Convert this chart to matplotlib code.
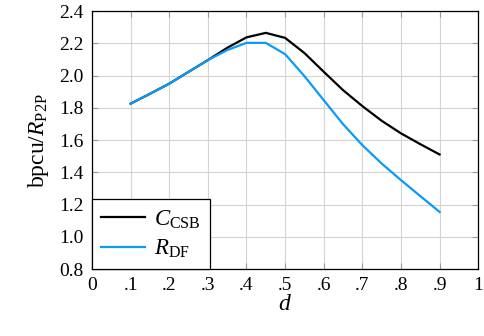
import matplotlib
matplotlib.use("Agg")
import matplotlib.pyplot as plt

# data
d = [0.1, 0.15, 0.2, 0.25, 0.3, 0.35, 0.4, 0.45, 0.5, 0.55, 0.6, 0.65, 0.7, 0.75, 0.8, 0.85, 0.9]
c_csb = [1.826, 1.887, 1.95, 2.023, 2.096, 2.172, 2.237, 2.265, 2.234, 2.14, 2.024, 1.91, 1.811, 1.72, 1.642, 1.575, 1.511]
r_df = [1.826, 1.887, 1.95, 2.023, 2.096, 2.158, 2.203, 2.203, 2.133, 1.997, 1.848, 1.699, 1.569, 1.455, 1.352, 1.253, 1.155]

x_ticks = [0, 0.1, 0.2, 0.3, 0.4, 0.5, 0.6, 0.7, 0.8, 0.9, 1.0]
x_labels = ["0", ".1", ".2", ".3", ".4", ".5", ".6", ".7", ".8", ".9", "1"]
y_ticks = [0.8, 1.0, 1.2, 1.4, 1.6, 1.8, 2.0, 2.2, 2.4]

plt.rcParams['font.family'] = ['Liberation Serif', 'DejaVu Serif']
plt.rcParams['mathtext.fontset'] = 'custom'
plt.rcParams['mathtext.rm'] = 'Liberation Serif'
plt.rcParams['mathtext.it'] = 'Liberation Serif:italic'

fig = plt.figure(figsize=(4.84, 3.36), dpi=100)
ax = fig.add_axes([0.190, 0.199, 0.798, 0.768])

ax.plot(d, c_csb, color='black', lw=1.6, label=r'$C_{\mathrm{CSB}}$')
ax.plot(d, r_df, color='#0a9bf7', lw=1.6, label=r'$R_{\mathrm{DF}}$')

ax.set_xlim(0, 1)
ax.set_ylim(0.8, 2.4)
ax.set_xticks(x_ticks)
ax.set_xticklabels(x_labels)
ax.set_yticks(y_ticks)
ax.set_yticklabels([f"{v:.1f}" for v in y_ticks])
ax.grid(True, color='#d4d4d4', lw=0.8)
ax.set_axisbelow(True)
ax.tick_params(direction='in', length=4, width=0.8, color='#999999',
               top=True, right=True, labelsize=14, pad=6)
for s in ax.spines.values():
    s.set_linewidth(0.9)

ax.set_xlabel(r'$d$', fontsize=17, labelpad=0)
ax.set_ylabel(r'bpcu/$R_{\mathrm{P2P}}$', fontsize=17, labelpad=6)

leg = ax.legend(loc='lower left', borderaxespad=0, fontsize=16.5, fancybox=False,
                framealpha=1, edgecolor='black', handlelength=1.9,
                handletextpad=0.4, borderpad=0.4, labelspacing=0.3)
leg.get_frame().set_linewidth(0.9)

fig.savefig('out.png', dpi=100)
